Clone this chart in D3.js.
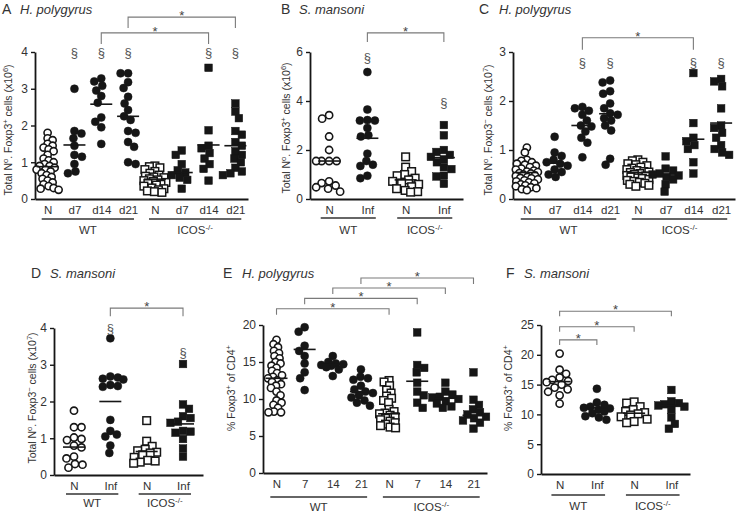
<!DOCTYPE html>
<html><head><meta charset="utf-8">
<script src="https://cdn.jsdelivr.net/npm/d3@7"></script>
<style>body{margin:0;background:#fff} svg{font-family:"Liberation Sans", Arial, sans-serif}</style>
</head><body><svg id="c" width="736" height="513"></svg>
<script>
// ---------- DATA ----------
const catsHp = ["N","d7","d14","d21","N","d7","d14","d21"];
const catsSm = ["N","Inf","N","Inf"];
const catsE  = ["N","7","14","21","N","7","14","21"];
const groupNames = ["WT","ICOS"];

const valsA = [
 [1.8,1.65,1.6,1.5,1.45,1.4,1.35,1.3,1.2,1.1,1.05,1.0,0.95,0.9,0.9,0.85,0.8,0.8,0.75,0.7,0.65,0.6,0.55,0.5,0.45,0.4,0.35,0.3,0.28,0.25],
 [3.0,1.85,1.78,1.65,1.45,1.2,1.15,0.95,0.75,0.7],
 [3.28,3.2,3.08,2.95,2.8,2.62,2.22,2.1,1.95,1.5],
 [3.42,3.42,3.18,3.02,2.78,2.6,2.42,2.25,2.15,1.85,1.8,1.55,1.42,1.0,0.95],
 [0.9,0.88,0.85,0.8,0.75,0.7,0.65,0.62,0.6,0.58,0.55,0.52,0.5,0.48,0.45,0.42,0.4,0.38,0.35,0.3,0.28,0.25,0.22,0.2,0.18],
 [1.32,1.2,0.95,0.78,0.72,0.65,0.58,0.52,0.28],
 [3.57,1.87,1.45,1.38,1.25,1.1,0.95,0.82,0.5],
 [2.6,2.38,2.2,1.85,1.75,1.55,1.45,1.3,1.2,1.1,1.0,0.85,0.75,0.7,0.65]
];
const meanA = [0.88,1.47,2.58,2.25,0.54,0.72,1.47,1.45];
const ticksA = [0,1,2,3,4];
const sectA = [null,4,4,4,null,null,4,4];
const bracketsA = [[2,6,4.52],[3,7,4.95]];

const valsB = [
 [3.42,3.28,2.55,2.0,1.55,1.55,1.55,1.55,0.72,0.65,0.55,0.48,0.42,0.3],
 [5.18,3.65,3.22,3.2,3.2,2.9,2.6,2.55,1.85,1.55,1.4,1.35,0.95,0.85],
 [1.72,1.3,1.12,1.0,0.95,0.85,0.78,0.72,0.65,0.6,0.5,0.42,0.35,0.3,0.28],
 [3.02,2.6,2.0,1.92,1.8,1.72,1.62,1.5,1.3,1.22,0.95,0.92,0.62]
];
const meanB = [1.55,2.48,0.78,1.69];
const ticksB = [0,2,4,6];
const sectB = [null,5.8,null,3.96];
const bracketsB = [[1,3,6.78]];

const valsC = [
 [1.05,0.95,0.8,0.78,0.75,0.72,0.7,0.68,0.65,0.62,0.6,0.58,0.56,0.55,0.53,0.52,0.5,0.48,0.47,0.45,0.43,0.42,0.4,0.38,0.36,0.34,0.32,0.3,0.28,0.26,0.24,0.22,0.2,0.18],
 [1.27,0.95,0.88,0.8,0.75,0.72,0.68,0.6,0.55,0.5,0.45],
 [1.88,1.85,1.8,1.72,1.6,1.5,1.48,1.38,1.25,1.15,0.85],
 [2.42,2.38,2.2,2.15,1.95,1.85,1.75,1.72,1.65,1.6,1.5,1.4,0.82,0.7],
 [0.8,0.78,0.75,0.72,0.7,0.68,0.65,0.63,0.6,0.58,0.56,0.55,0.54,0.52,0.5,0.48,0.47,0.45,0.43,0.42,0.4,0.38,0.36,0.34,0.32,0.3,0.28,0.26],
 [0.87,0.62,0.58,0.52,0.5,0.48,0.45,0.4,0.3,0.15],
 [2.57,1.55,1.25,1.18,1.1,1.02,0.75,0.52],
 [2.45,2.4,2.3,1.85,1.5,1.45,1.35,1.25,1.1,1.02,0.95,0.9]
];
const meanC = [0.54,0.73,1.5,1.74,0.54,0.49,1.22,1.55];
const ticksC = [0,1,2,3];
const sectC = [null,null,2.8,2.8,null,null,2.8,2.8];
const bracketsC = [[2,6,3.29]];

const valsD = [
 [1.75,1.3,1.3,1.02,0.98,0.95,0.8,0.75,0.5,0.45,0.3,0.28,0.2],
 [3.72,2.68,2.65,2.62,2.6,2.45,2.42,2.4,1.5,1.2,1.1,1.05,0.8,0.6],
 [1.48,0.92,0.78,0.7,0.66,0.62,0.6,0.55,0.48,0.4,0.38,0.35,0.32],
 [3.02,1.92,1.8,1.6,1.55,1.45,1.42,1.2,1.18,1.15,0.98,0.72,0.5]
];
const meanD = [0.76,2.0,0.64,1.39];
const ticksD = [0,1,2,3,4];
const sectD = [null,4.0,null,3.35];
const bracketsD = [[1,3,4.54]];

const valsE = [
 [18.0,17.4,17.0,16.5,16.2,15.8,15.5,15.0,14.8,14.5,14.2,13.8,13.5,13.2,13.0,12.8,12.5,12.3,12.0,11.8,11.5,11.0,10.5,9.8,9.5,9.2,8.8,8.3,8.2,8.2],
 [19.7,19.1,17.2,16.5,15.8,14.8,13.6,12.8,11.2],
 [15.8,15.0,14.8,14.7,14.6,14.5,14.3,14.0,13.1],
 [14.0,13.0,12.8,12.6,11.8,11.3,11.0,10.8,10.5,10.2,9.8,9.5,9.1],
 [12.5,12.3,11.8,11.2,10.8,10.4,10.1,9.8,9.5,8.6,8.3,8.1,8.0,7.8,7.6,7.4,7.2,7.0,6.8,6.6,6.4,6.2,6.1],
 [19.0,14.6,14.2,13.6,12.2,11.0,10.5,9.5,8.8],
 [12.2,11.0,10.6,10.3,10.2,10.0,9.7,9.4,9.0,8.8],
 [13.6,9.9,9.2,8.6,8.2,7.9,7.6,7.4,7.1,6.8,6.0]
];
const meanE = [12.8,16.7,14.7,11.0,8.0,12.4,10.1,7.8];
const ticksE = [0,5,10,15,20];
const bracketsE = [[0,4,22.2],[1,5,23.6],[2,6,25.0],[3,7,26.35]];

const valsF = [
 [20.2,17.5,16.8,16.2,15.8,15.6,15.4,15.0,14.5,14.2,13.8,13.2,11.8],
 [14.3,12.0,11.6,11.3,11.1,11.0,10.8,10.5,10.2,9.7,9.5,9.1],
 [12.1,11.9,11.3,10.8,10.5,10.3,10.1,9.9,9.6,9.2,8.8,8.6],
 [14.1,12.2,11.9,11.7,11.5,11.3,10.8,9.5,8.4,7.6]
];
const meanF = [15.5,11.1,10.2,11.5];
const ticksF = [0,5,10,15,20,25];
const bracketsF = [[0,1,22.5],[0,2,24.7],[0,3,27.3]];

// ---------- LAYOUT ----------
const countLabel = (sup, exp) => [["Total N",0],["o",1],[". Foxp3",0],[sup,1],[" cells (x10",0],[exp,1],[")",0]];
const pctLabel = [["% Foxp3",0],["+",1],[" of CD4",0],["+",1]];

const panels = [
 {L:"A", sp:"H. polygyrus", cats:catsHp, vals:valsA, mean:meanA, ticks:ticksA, sect:sectA, br:bracketsA,
  x0:35,x1:248,pad:0.47,yTop:52,yBot:199, tx:2,ty:14,spx:20, ylx:12,yly:130, ylab:countLabel("+","6"), leg:11, lab:[15,234], ul:219},
 {L:"B", sp:"S. mansoni", cats:catsSm, vals:valsB, mean:meanB, ticks:ticksB, sect:sectB, br:bracketsB,
  x0:310,x1:463,pad:0.5,yTop:52,yBot:199, tx:281,ty:14,spx:299, ylx:290,yly:128, ylab:countLabel("+","6"), leg:9, lab:[15,234], ul:218},
 {L:"C", sp:"H. polygyrus", cats:catsHp, vals:valsC, mean:meanC, ticks:ticksC, sect:sectC, br:bracketsC,
  x0:513,x1:735,pad:0.5,yTop:52,yBot:199, tx:479,ty:14,spx:499, ylx:492,yly:130, ylab:countLabel("\u2212","7"), leg:12, lab:[15,234], ul:219},
 {L:"D", sp:"S. mansoni", cats:catsSm, vals:valsD, mean:meanD, ticks:ticksD, sect:sectD, br:bracketsD,
  x0:54,x1:203,pad:0.55,yTop:328,yBot:475, tx:31,ty:278,spx:50, ylx:36,yly:398, ylab:countLabel("\u2212","7"), leg:8, lab:[15,507], ul:494},
 {L:"E", sp:"H. polygyrus", cats:catsE, vals:valsE, mean:meanE, ticks:ticksE, sect:null, br:bracketsE,
  x0:263,x1:487,pad:0.48,yTop:325,yBot:473, tx:223,ty:278,spx:242, ylx:235,yly:388, ylab:pctLabel, leg:6, lab:[15,511], ul:497},
 {L:"F", sp:"S. mansoni", cats:catsSm, vals:valsF, mean:meanF, ticks:ticksF, sect:null, br:bracketsF,
  x0:541,x1:690,pad:0.5,yTop:325,yBot:474, tx:506,ty:278,spx:524, ylx:512,yly:388, ylab:pctLabel, leg:5, lab:[15,510], ul:495}
];

const svg = d3.select("#c");
const INK = "#161616", TXT = "#333", GREY = "#7a7a7a";

function swarm(vals, y, minD, maxOff){
  const pts = vals.map(v=>({v, py:y(v)})).sort((a,b)=>a.py-b.py);
  const placed=[];
  const cands=[0];
  for(let k=1;k<=Math.ceil(maxOff/0.5);k++){cands.push(k*0.5);cands.push(-k*0.5);}
  pts.forEach((p,i)=>{
    let best=0,bestD=-1;
    const order = (i%2)? cands.map(c=>-c): cands;
    for(const c of order){
      let md=Infinity;
      for(const q of placed){const d=Math.hypot(q.dx-c,q.py-p.py); if(d<md)md=d;}
      if(md>=minD){best=c;bestD=md;break;}
      if(md>bestD){bestD=md;best=c;}
    }
    p.dx=best; placed.push(p);
  });
  return pts;
}

panels.forEach(p=>{
  const g = svg.append("g");
  const n = p.cats.length, half = n/2;
  const x = d3.scalePoint().domain(d3.range(n)).range([p.x0,p.x1]).padding(p.pad);
  const y = d3.scaleLinear().domain([0,d3.max(p.ticks)]).range([p.yBot,p.yTop]);
  const step = x.step();

  // y axis
  const ya = g.append("g").attr("transform",`translate(${p.x0},0)`)
    .call(d3.axisLeft(y).tickValues(p.ticks).tickSize(4).tickSizeOuter(0).tickPadding(3).tickFormat(d3.format("d")));
  ya.select(".domain").attr("stroke",INK).attr("stroke-width",1.8);
  ya.selectAll(".tick line").attr("stroke",INK).attr("stroke-width",1.4);
  ya.selectAll(".tick text").attr("font-size",12).attr("fill",TXT).attr("font-family","Liberation Sans, Arial, sans-serif");

  // x axis
  const xa = g.append("g").attr("transform",`translate(0,${p.yBot})`)
    .call(d3.axisBottom(x).tickSize(0).tickSizeOuter(0).tickPadding(7).tickFormat(i=>p.cats[i]));
  xa.select(".domain").attr("stroke",INK).attr("stroke-width",1.8);
  xa.selectAll(".tick text").attr("font-size",11.5).attr("fill",TXT).attr("font-family","Liberation Sans, Arial, sans-serif");

  // group underlines and labels
  [0,1].forEach(gi=>{
    const a = x(gi*half) - step*0.22, b = x(gi*half+half-1) + step*0.22;
    g.append("line").attr("x1",a).attr("x2",b).attr("y1",p.ul).attr("y2",p.ul)
      .attr("stroke","#333").attr("stroke-width",1.3);
    const t = g.append("text").attr("x",(a+b)/2).attr("y",p.lab[1]).attr("text-anchor","middle")
      .attr("font-size",11.5).attr("fill",TXT);
    t.append("tspan").text(groupNames[gi]);
    if(gi===1){ t.append("tspan").attr("dy",-4).attr("font-size",8).text("-/-"); }
  });

  // points
  p.vals.forEach((vals,i)=>{
    const cx = x(i);
    const open = (i % half) === 0;
    const square = i >= half;
    const dense = vals.length > 20;
    const pts = swarm(vals, y, dense ? 5.2 : 7.4, dense ? 11 : 13);
    pts.forEach(pt=>{
      if(square){
        g.append("rect").attr("x",cx+pt.dx-3.8).attr("y",pt.py-3.8).attr("width",7.6).attr("height",7.6)
          .attr("fill",open?"#fff":INK).attr("stroke",INK).attr("stroke-width",open?1.5:0.5);
      } else {
        g.append("circle").attr("cx",cx+pt.dx).attr("cy",pt.py).attr("r",open?3.6:4.0)
          .attr("fill",open?"#fff":INK).attr("stroke",INK).attr("stroke-width",open?1.6:0.5);
      }
    });
    g.append("line").attr("x1",cx-11).attr("x2",cx+11).attr("y1",y(p.mean[i])).attr("y2",y(p.mean[i]))
      .attr("stroke",INK).attr("stroke-width",1.6);
  });

  // section signs
  if(p.sect) p.sect.forEach((s,i)=>{
    if(s==null) return;
    g.append("text").attr("x",x(i)).attr("y",y(s)+5).attr("text-anchor","middle")
      .attr("font-size",13).attr("fill","#555").text("\u00a7");
  });

  // brackets
  p.br.forEach(([a,b,v])=>{
    const yy = y(v);
    g.append("path").attr("d",`M${x(a)},${yy+p.leg}V${yy}H${x(b)}V${yy+p.leg}`)
      .attr("fill","none").attr("stroke",GREY).attr("stroke-width",1.1);
    g.append("text").attr("x",(x(a)+x(b))/2).attr("y",yy+3).attr("text-anchor","middle")
      .attr("font-size",13).attr("fill","#444").text("*");
  });

  // title
  g.append("text").attr("x",p.tx).attr("y",p.ty).attr("font-size",14).attr("fill",TXT).text(p.L);
  g.append("text").attr("x",p.spx).attr("y",p.ty).attr("font-size",13).attr("font-style","italic").attr("fill",TXT).text(p.sp);

  // y label
  const yl = g.append("text").attr("transform",`translate(${p.ylx},${p.yly}) rotate(-90)`)
    .attr("text-anchor","middle").attr("font-size",10.5).attr("fill",TXT);
  let prev = 0;
  p.ylab.forEach(([s,sup])=>{
    const ts = yl.append("tspan").text(s);
    const dy = (sup?-4:0) - (prev?-4:0);
    if(dy) ts.attr("dy",dy);
    if(sup) ts.attr("font-size",7.5);
    prev = sup;
  });
});
</script></body></html>
